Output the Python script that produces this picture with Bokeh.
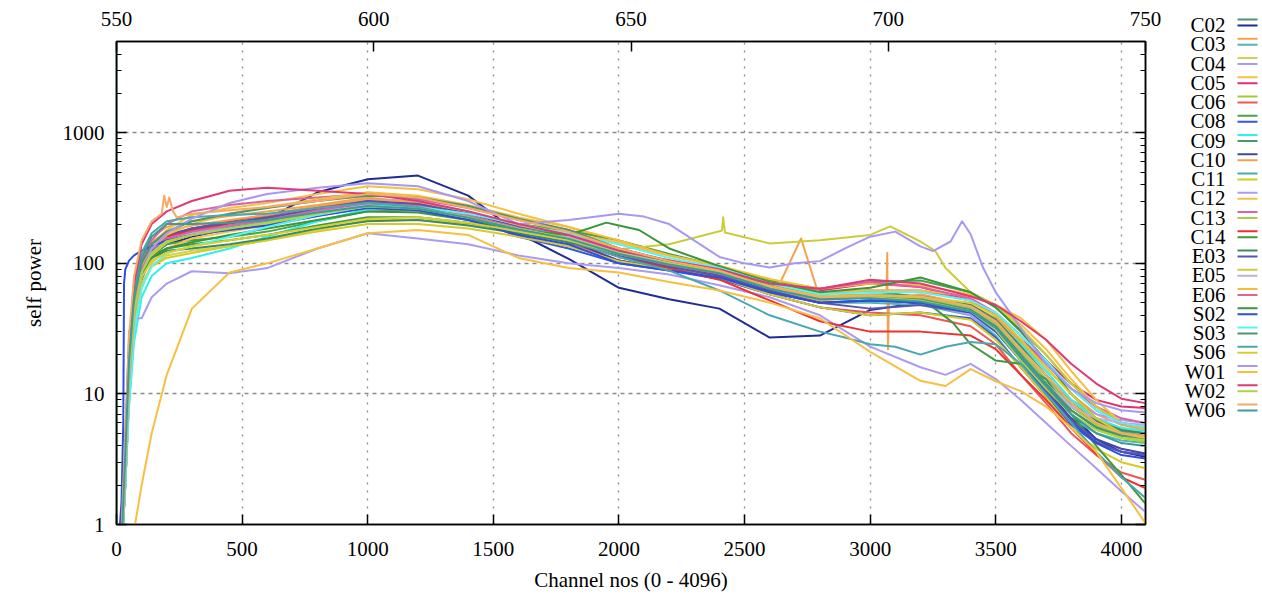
import numpy as np
from bokeh.plotting import figure
from bokeh.models import Range1d, LinearAxis, LogAxis, FixedTicker, PrintfTickFormatter
from bokeh.layouts import row
from bokeh.embed import file_html
from bokeh.resources import INLINE
from bokeh.core.properties import value

FONT = "Liberation Serif"

# sample channels shared by all series
CH = [0, 20, 35, 50, 70, 100, 140, 200, 300, 450, 600, 800, 1000, 1200, 1400, 1600,
      1800, 2000, 2200, 2400, 2600, 2800, 3000, 3200, 3400, 3500, 3600, 3700, 3800, 3900, 4000, 4095]

C02_X = [6000, 0.9, 4, 20, 55, 95, 125, 150, 165, 185, 200, 240, 280, 270, 230, 185,
         150, 118, 96, 80, 62, 50, 52, 50, 42, 32, 20, 13, 8, 6, 5.2, 4.8]
C02_Y = [0.4, 0.6, 2, 10, 35, 80, 115, 140, 160, 185, 220, 350, 440, 470, 330, 170,
         108, 65, 53, 45, 27, 28, 44, 50, 45, 34, 20, 12, 7, 4.5, 3.6, 3.3]
C03_X = [0.4, 0.7, 4, 25, 70, 120, 160, 190, 210, 230, 250, 280, 320, 290, 240, 180,
         150, 115, 98, 82, 62, 52, 55, 58, 48, 38, 25, 16, 10, 7, 5.8, 5.3]
C03_Y = [0.5, 0.8, 3, 12, 40, 80, 120, 155, 170, 185, 210, 240, 270, 260, 220, 180,
         150, 118, 95, 80, 60, 50, 50, 48, 40, 28, 16, 10, 6.5, 5, 4.4, 4.2]
C04_X = [0.4, 0.6, 2, 10, 30, 65, 95, 115, 125, 135, 150, 180, 215, 215, 200, 175,
         150, 115, 98, 85, 66, 55, 56, 52, 43, 32, 20, 12, 8, 6, 5, 4.7]
C04_Y = [0.5, 0.8, 3, 14, 45, 85, 120, 150, 175, 200, 230, 270, 310, 300, 250, 200,
         170, 130, 105, 90, 68, 55, 55, 50, 40, 30, 20, 13, 9, 7, 6.3, 6]
C05_X = [0.4, 0.6, 3, 15, 50, 100, 140, 180, 235, 265, 290, 340, 390, 370, 310, 240,
         190, 140, 115, 95, 74, 60, 60, 56, 46, 36, 24, 15, 9, 6.5, 5.4, 5]
C05_Y = [0.4, 0.6, 2.5, 12, 40, 85, 125, 160, 185, 210, 235, 270, 300, 280, 235, 185,
         155, 115, 95, 82, 64, 62, 70, 66, 52, 40, 26, 18, 12, 9, 8, 7.8]
C06_X = [0.5, 0.8, 4, 20, 60, 105, 140, 165, 180, 200, 215, 250, 285, 275, 230, 190,
         165, 125, 100, 86, 68, 56, 56, 53, 44, 33, 20, 12, 7.5, 5.5, 4.6, 4.3]
C06_Y = [0.4, 0.6, 2.5, 12, 40, 80, 120, 150, 170, 190, 210, 245, 280, 265, 225, 180,
         145, 105, 90, 76, 58, 46, 42, 40, 33, 24, 14, 8.5, 5, 3.4, 2.5, 2.2]
C08_X = [0.4, 0.7, 3, 15, 45, 85, 115, 140, 150, 160, 175, 210, 250, 255, 230, 200,
         178, 150, 118, 95, 74, 64, 72, 74, 60, 46, 31, 20, 12, 8, 6, 5.5]
C08_Y = [0.4, 0.6, 2, 10, 35, 75, 115, 150, 175, 195, 215, 250, 285, 270, 225, 160,
         130, 100, 88, 76, 58, 46, 40, 42, 38, 27, 16, 9.5, 5.8, 4.2, 3.6, 3.4]
C09_X = [0.4, 0.6, 2, 8, 25, 55, 80, 100, 110, 130, 160, 210, 260, 265, 235, 195,
         160, 120, 98, 84, 64, 55, 58, 56, 47, 36, 24, 15, 9, 6.5, 5.5, 5.2]
C09_Y = [0.5, 0.8, 3, 14, 45, 90, 130, 160, 180, 195, 210, 240, 275, 265, 235, 190,
         160, 122, 100, 86, 66, 54, 55, 52, 43, 32, 19, 12, 7.5, 5.6, 4.8, 4.5]
C10_X = [0.4, 0.6, 2.5, 12, 40, 85, 125, 160, 185, 200, 215, 250, 290, 285, 240, 185,
         150, 105, 90, 78, 60, 50, 52, 52, 44, 32, 19, 11, 6.5, 4.5, 3.8, 3.5]
C10_Y = [0.4, 0.7, 3.5, 18, 55, 105, 145, 175, 195, 215, 235, 275, 310, 295, 250, 200,
         165, 125, 105, 90, 68, 60, 56, 55, 46, 35, 22, 14, 8.5, 6.2, 5.2, 4.9]
C11_X = [0.4, 0.6, 3, 15, 45, 85, 120, 150, 170, 190, 210, 250, 290, 275, 235, 190,
         160, 125, 102, 88, 68, 56, 56, 54, 45, 34, 21, 13, 8, 6, 5.2, 5]
C11_Y = [0.5, 0.8, 3, 12, 35, 70, 95, 110, 120, 135, 150, 175, 200, 200, 185, 160,
         135, 104, 90, 78, 58, 46, 40, 42, 37, 26, 16, 9.5, 5.5, 3.8, 3, 2.7]
C12_X = [0.4, 0.7, 5, 30, 38, 38, 55, 70, 87, 84, 92, 130, 170, 155, 140, 115,
         100, 92, 82, 68, 55, 40, 23, 16, 17, 13, 9, 6, 4, 2.7, 1.8, 1.25]
C12_Y = [0.4, 0.6, 2, 10, 30, 65, 100, 130, 155, 175, 195, 230, 270, 260, 230, 195,
         170, 145, 115, 96, 76, 64, 70, 68, 58, 48, 34, 22, 13, 8, 6, 5.5]
C13_X = [0.5, 0.8, 3.5, 18, 55, 105, 150, 200, 250, 280, 300, 320, 340, 310, 265, 215,
         180, 130, 104, 88, 68, 58, 62, 62, 52, 40, 26, 17, 11, 8, 6.5, 6]
C13_Y = [0.4, 0.6, 2.5, 12, 40, 80, 115, 145, 165, 185, 205, 240, 270, 260, 225, 185,
         155, 120, 98, 84, 64, 54, 56, 54, 46, 34, 21, 13, 8, 5.8, 4.8, 4.5]
C14_X = [0.4, 0.6, 3, 14, 45, 90, 130, 160, 180, 200, 220, 255, 290, 270, 225, 180,
         150, 112, 92, 75, 52, 36, 30, 30, 28, 22, 14, 9, 5.5, 3.5, 2.3, 1.9]
C14_Y = [0.4, 0.7, 3, 15, 45, 85, 115, 130, 140, 150, 165, 195, 225, 225, 205, 175,
         155, 125, 102, 88, 68, 60, 62, 55, 24, 18, 17, 13, 7, 4, 2.4, 1.45]
E03_X = [0.4, 0.6, 2.5, 12, 40, 80, 110, 125, 130, 140, 155, 185, 210, 215, 195, 170,
         145, 115, 97, 84, 65, 55, 57, 56, 48, 37, 23, 14, 8.5, 6.2, 5.3, 5]
E03_Y = [0.4, 0.6, 3, 14, 45, 90, 130, 165, 185, 205, 225, 260, 300, 285, 240, 190,
         155, 115, 94, 80, 62, 50, 45, 48, 42, 31, 18, 10.5, 6.3, 4.3, 3.6, 3.4]
E05_X = [0.4, 0.6, 2.5, 12, 38, 80, 115, 145, 165, 180, 200, 235, 265, 255, 220, 180,
         150, 128, 140, 176, 142, 150, 165, 147, 60, 48, 32, 20, 12, 8, 6, 5.5]
E05_Y = [0.5, 0.8, 3, 14, 42, 85, 120, 150, 170, 195, 215, 250, 280, 270, 230, 185,
         160, 122, 100, 86, 66, 55, 55, 52, 44, 33, 20, 12, 8, 6.5, 6, 5.8]
E06_X = [0.4, 0.6, 3, 16, 50, 95, 130, 165, 200, 240, 270, 310, 350, 330, 280, 225,
         190, 150, 115, 95, 72, 60, 62, 62, 56, 48, 38, 26, 15, 9, 6, 5.4]
E06_Y = [0.4, 0.7, 3, 14, 45, 90, 128, 155, 175, 195, 215, 255, 290, 275, 232, 186,
         156, 118, 97, 84, 66, 64, 72, 66, 54, 42, 28, 18, 11, 7.5, 6, 5.6]
S02_X = [0.4, 0.6, 2.5, 12, 40, 80, 110, 130, 145, 165, 185, 215, 250, 245, 215, 180,
         165, 195, 130, 95, 72, 60, 65, 78, 60, 46, 30, 18, 10, 6.5, 5, 4.6]
S02_Y = [0.4, 1.5, 90, 105, 115, 125, 135, 150, 165, 180, 195, 230, 265, 255, 215, 165,
         140, 100, 88, 78, 60, 50, 52, 50, 42, 30, 18, 10, 6, 4.2, 3.4, 3.2]
S03_X = [0.4, 0.6, 2, 9, 30, 65, 95, 120, 135, 160, 190, 235, 275, 270, 240, 200,
         168, 140, 110, 92, 70, 58, 60, 60, 52, 42, 28, 18, 11, 7.5, 6, 5.6]
S03_Y = [0.5, 0.8, 3.5, 18, 55, 100, 140, 175, 210, 240, 265, 300, 330, 320, 275, 220,
         180, 130, 104, 86, 66, 54, 55, 53, 44, 33, 20, 12, 7.5, 5.5, 4.8, 4.6]
S06_X = [0.4, 0.7, 4, 22, 65, 120, 170, 210, 225, 235, 240, 265, 290, 270, 225, 180,
         150, 112, 88, 62, 40, 30, 24, 20, 25, 24, 17, 10, 6, 3.6, 2.3, 1.6]
S06_Y = [0.4, 0.6, 2.5, 12, 38, 78, 105, 120, 135, 150, 165, 190, 220, 225, 205, 175,
         150, 118, 100, 86, 67, 56, 57, 55, 50, 40, 26, 16, 10, 6.5, 5, 4.6]
W01_X = [0.4, 0.6, 2.5, 12, 40, 85, 130, 170, 220, 290, 340, 380, 410, 390, 300, 200,
         215, 240, 200, 112, 93, 104, 160, 135, 167, 60, 32, 17, 11, 8.5, 7.5, 7.2]
W01_Y = [0.3, 0.4, 0.5, 0.6, 0.9, 2, 5, 14, 45, 85, 100, 130, 170, 180, 165, 110,
         92, 85, 72, 62, 50, 38, 21, 12.6, 15.5, 12.5, 10.5, 8, 5.5, 3.6, 1.9, 1.03]
W02_X = [0.5, 0.8, 4, 22, 70, 140, 200, 250, 300, 360, 380, 360, 340, 300, 250, 200,
         165, 125, 105, 90, 70, 64, 75, 70, 56, 48, 36, 26, 17, 12, 9.2, 8.5]
W02_Y = [0.4, 0.6, 3, 14, 42, 85, 120, 148, 165, 185, 205, 240, 272, 262, 226, 184,
         156, 120, 99, 85, 65, 54, 55, 52, 43, 31, 18, 11, 7, 5.3, 4.6, 4.4]
W06_X = [0.5, 0.9, 5, 28, 80, 150, 210, 270, 240, 255, 270, 300, 340, 320, 265, 215,
         175, 130, 104, 88, 66, 55, 57, 56, 47, 36, 22, 14, 8.5, 6, 5, 4.7]
W06_Y = [0.4, 0.7, 3.5, 18, 55, 110, 160, 200, 200, 205, 215, 245, 275, 262, 224, 182,
         154, 118, 98, 84, 64, 53, 54, 51, 43, 32, 19, 11.5, 7, 5, 4.2, 4]

# single-channel features (channel, power)
EXTRA = {
    "C02_X": [(1, 0.5)],
    "C03_X": [(3065, 56), (3068, 120), (3071, 22), (3075, 54)],
    "C10_Y": [(2640, 70), (2725, 155), (2790, 62)],
    "C12_X": [(3300, 14)],
    "C14_Y": [(3330, 35)],
    "E05_X": [(2410, 178), (2415, 225), (2422, 172), (3080, 192), (3260, 124), (3300, 92)],
    "S02_X": [(1950, 205), (2080, 180)],
    "S02_Y": [(27, 6), (30, 70)],
    "S06_X": [(2900, 27), (3100, 23), (3300, 23)],
    "W01_X": [(2100, 228), (2500, 100), (2700, 100), (2900, 130), (3100, 175),
              (3250, 124), (3320, 147), (3366, 210), (3450, 92)],
    "W01_Y": [(3300, 11.5)],
    "W06_X": [(180, 240), (190, 330), (210, 320), (225, 250), (240, 225)],
}

STATIONS = ["C02", "C03", "C04", "C05", "C06", "C08", "C09", "C10", "C11", "C12", "C13",
            "C14", "E03", "E05", "E06", "S02", "S03", "S06", "W01", "W02", "W06"]
SERIES = {
    "C02": (C02_X, C02_Y), "C03": (C03_X, C03_Y), "C04": (C04_X, C04_Y),
    "C05": (C05_X, C05_Y), "C06": (C06_X, C06_Y), "C08": (C08_X, C08_Y),
    "C09": (C09_X, C09_Y), "C10": (C10_X, C10_Y), "C11": (C11_X, C11_Y),
    "C12": (C12_X, C12_Y), "C13": (C13_X, C13_Y), "C14": (C14_X, C14_Y),
    "E03": (E03_X, E03_Y), "E05": (E05_X, E05_Y), "E06": (E06_X, E06_Y),
    "S02": (S02_X, S02_Y), "S03": (S03_X, S03_Y), "S06": (S06_X, S06_Y),
    "W01": (W01_X, W01_Y), "W02": (W02_X, W02_Y), "W06": (W06_X, W06_Y),
}
COLORS = {
    "C02": ("#4b9670", "#1f2d94"), "C03": ("#f5a24c", "#52b5b5"),
    "C04": ("#d2d24e", "#ab9bf2"), "C05": ("#f6c040", "#e0306f"),
    "C06": ("#a2cc34", "#ee5656"), "C08": ("#4aa24a", "#3556e6"),
    "C09": ("#2ef0f0", "#4b9670"), "C10": ("#4545a5", "#f5a24c"),
    "C11": ("#45adad", "#d4cc24"), "C12": ("#ab9bf2", "#f6c040"),
    "C13": ("#de62a0", "#a8cc44"), "C14": ("#ee3030", "#3f9a3f"),
    "E03": ("#3f8a64", "#5656ae"), "E05": ("#cccc3a", "#bcaef6"),
    "E06": ("#f6bc40", "#de62a0"), "S02": ("#3a963a", "#2e4ee0"),
    "S03": ("#55f5f5", "#4b9670"), "S06": ("#48a8b0", "#d4d030"),
    "W01": ("#a898f2", "#f6c040"), "W02": ("#de3a78", "#acd444"),
    "W06": ("#f6aa64", "#3f9a9a"),
}

X_TICKS = [0, 500, 1000, 1500, 2000, 2500, 3000, 3500, 4000]
MHZ_TICKS = [550, 600, 650, 700, 750]
Y_TICKS = [1, 10, 100, 1000]
Y_MINOR = [m * d for d in (1, 10, 100, 1000) for m in range(2, 10) if m * d <= 5000]

p = figure(width=1165, height=597, x_range=Range1d(0, 4096), y_range=Range1d(1, 5000),
           y_axis_type="log", output_backend="svg", toolbar_location=None,
           min_border_left=116, min_border_right=20, min_border_top=41, min_border_bottom=73,
           background_fill_color="white", border_fill_color="white")
p.outline_line_color = "black"
p.outline_line_width = 1.5

bottom = p.below[0]
left = p.left[0]

p.extra_x_ranges = {"mhz": Range1d(550, 750)}
top = LinearAxis(x_range_name="mhz", ticker=FixedTicker(ticks=MHZ_TICKS))
p.add_layout(top, "above")
right = LogAxis(ticker=FixedTicker(ticks=Y_TICKS, minor_ticks=Y_MINOR),
                major_label_text_font_size="2px", major_label_text_alpha=0.0)
p.add_layout(right, "right")

bottom.ticker = FixedTicker(ticks=X_TICKS)
bottom.axis_label = "Channel nos (0 - 4096)"
left.ticker = FixedTicker(ticks=Y_TICKS, minor_ticks=Y_MINOR)
left.formatter = PrintfTickFormatter(format="%d")
left.axis_label = "self power"

for ax in (bottom, left, top, right):
    ax.axis_line_color = "black"
    ax.axis_line_width = 1.5
    ax.major_tick_in = 10
    ax.major_tick_out = 0
    ax.minor_tick_in = 5
    ax.minor_tick_out = 0
    ax.major_tick_line_color = "black"
    ax.major_tick_line_width = 1.5
    ax.minor_tick_line_color = "black"
    ax.minor_tick_line_width = 1.2
    ax.major_label_text_font = FONT
    ax.major_label_text_color = "black"
    ax.axis_label_text_font = FONT
    ax.axis_label_text_font_style = "normal"
    ax.axis_label_text_color = "black"
    ax.axis_label_text_font_size = "21px"
for ax in (bottom, left, top):
    ax.major_label_text_font_size = "21px"
bottom.major_label_standoff = 17
bottom.axis_label_standoff = 9
left.major_label_standoff = 12
left.axis_label_standoff = 14
top.major_label_standoff = 16

p.xgrid.ticker = FixedTicker(ticks=X_TICKS[1:])
p.xgrid.grid_line_color = "#8a8a8a"
p.xgrid.grid_line_dash = "2 6"
p.xgrid.grid_line_width = 1.3
p.ygrid.ticker = FixedTicker(ticks=[10, 100, 1000])
p.ygrid.grid_line_color = "#8a8a8a"
p.ygrid.grid_line_dash = "4 4"
p.ygrid.grid_line_width = 1.3

for st in STATIONS:
    for k, pol in enumerate(("X", "Y")):
        vals = SERIES[st][k]
        pts = list(zip(CH, vals)) + EXTRA.get(f"{st}_{pol}", [])
        pts.sort(key=lambda t: t[0])
        xs = np.array([t[0] for t in pts], dtype=float)
        ys = np.array([t[1] for t in pts], dtype=float)
        p.line(xs, ys, line_color=COLORS[st][k], line_width=2.0, line_join="round")

# legend panel
p2 = figure(width=97, height=597, x_range=Range1d(1165, 1262), y_range=Range1d(597, 0),
            x_axis_location=None, y_axis_location=None, toolbar_location=None,
            output_backend="svg", min_border=0, outline_line_color=None,
            background_fill_color="white", border_fill_color="white")
p2.xgrid.visible = False
p2.ygrid.visible = False
for fig in (p, p2):
    try:
        fig.frame_align = False
    except Exception:
        pass
cy = np.array([23.5 + 19.25 * i for i in range(len(STATIONS))])
p2.text(x=[1225] * len(STATIONS), y=cy + 1.0, text=STATIONS, text_align="right",
        text_baseline="middle", text_font=value(FONT), text_font_size="21px",
        text_color="black")
p2.segment(x0=[1237] * len(STATIONS), y0=cy - 4.5, x1=[1257] * len(STATIONS), y1=cy - 4.5,
           line_color=[COLORS[s][0] for s in STATIONS], line_width=2)
p2.segment(x0=[1237] * len(STATIONS), y0=cy + 1.5, x1=[1257] * len(STATIONS), y1=cy + 1.5,
           line_color=[COLORS[s][1] for s in STATIONS], line_width=2)

layout = row(p, p2)
open("out.html", "w").write(file_html(layout, INLINE))
